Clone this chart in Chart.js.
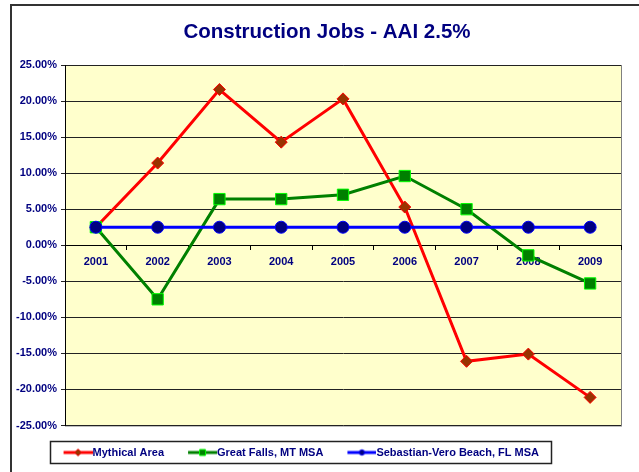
<!DOCTYPE html>
<html>
<head>
<meta charset="utf-8">
<script src="https://cdn.jsdelivr.net/npm/chart.js@4"></script>
<style>
  html, body { margin: 0; padding: 0; background: #fff; overflow: hidden; }
  #wrap { position: relative; width: 639px; height: 472px; }
</style>
</head>
<body>
<div id="wrap"><canvas id="chart"></canvas></div>
<script>
// chart data
const years = ['2001', '2002', '2003', '2004', '2005', '2006', '2007', '2008', '2009'];
const mythicalArea = [2.5, 11.4, 21.6, 14.3, 20.3, 5.3, -16.1, -15.1, -21.1];
const greatFalls = [2.5, -7.5, 6.4, 6.4, 7.0, 9.6, 5.0, -1.4, -5.3];
const sebastianVero = [2.5, 2.5, 2.5, 2.5, 2.5, 2.5, 2.5, 2.5, 2.5];
const seriesNames = ['Mythical Area', 'Great Falls, MT MSA', 'Sebastian-Vero Beach, FL MSA'];

const NAVY = '#000080';
const FONT = 'Liberation Sans, Arial, sans-serif';

// small line+marker picture for legend entries
function legendIcon(lineColor, fill, stroke, shape) {
    const c = document.createElement('canvas');
    c.width = 37;
    c.height = 12;
    const g = c.getContext('2d');
    g.strokeStyle = lineColor;
    g.lineWidth = 3;
    g.beginPath();
    g.moveTo(8, 6);
    g.lineTo(37, 6);
    g.stroke();
    const cx = 22.5, cy = 6;
    g.fillStyle = fill;
    g.strokeStyle = stroke;
    g.lineWidth = 1;
    g.beginPath();
    if (shape === 'diamond') {
        g.moveTo(cx, cy - 3.5); g.lineTo(cx + 3.5, cy); g.lineTo(cx, cy + 3.5); g.lineTo(cx - 3.5, cy); g.closePath();
    } else if (shape === 'square') {
        g.rect(cx - 3, cy - 3, 6, 6);
    } else {
        g.arc(cx, cy, 2.7, 0, Math.PI * 2);
    }
    g.fill();
    g.stroke();
    return c;
}

const icons = [
    legendIcon('#FF0000', '#993300', '#FF0000', 'diamond'),
    legendIcon('#008000', '#008000', '#00FF00', 'square'),
    legendIcon('#0000FF', '#000080', '#0000FF', 'circle')
];

// background, plot fill, outer frame, legend box
const decor = {
    id: 'decor',
    afterLayout(chart) {
        // nudge title and legend to where the original sits
        chart.titleBlock.left += 16.5;
        chart.titleBlock.right += 16.5;
        chart.legend.left -= 10.5;
        chart.legend.right -= 10.5;
    },
    beforeDraw(chart) {
        const ctx = chart.ctx;
        const a = chart.chartArea;
        ctx.save();
        ctx.fillStyle = '#fff';
        ctx.fillRect(0, 0, chart.width, chart.height);
        ctx.fillStyle = '#FFFFCC';
        ctx.fillRect(a.left, a.top, a.right - a.left, a.bottom - a.top);
        ctx.strokeStyle = '#808080';
        ctx.lineWidth = 1;
        ctx.strokeRect(a.left + 0.5, a.top + 0.5, a.right - a.left, a.bottom - a.top);
        // outer frame: only top and left edges are inside the picture
        ctx.strokeStyle = '#333';
        ctx.lineWidth = 2;
        ctx.beginPath();
        ctx.moveTo(11, chart.height + 2);
        ctx.lineTo(11, 5);
        ctx.lineTo(chart.width + 2, 5);
        ctx.stroke();
        ctx.restore();
    },
    afterDraw(chart) {
        const hb = chart.legend.legendHitBoxes;
        if (!hb || !hb.length) return;
        const first = hb[0], last = hb[hb.length - 1];
        const ctx = chart.ctx;
        ctx.save();
        ctx.strokeStyle = '#222';
        ctx.lineWidth = 1.5;
        const l = Math.round(first.left - 11) + 0.5;
        const r = Math.round(last.left + last.width + 12) + 0.5;
        const t = Math.round(first.top - 6.5) + 0.5;
        const b = Math.round(first.top + first.height + 5) + 0.5;
        ctx.strokeRect(l, t, r - l, b - t);
        ctx.restore();
    }
};

new Chart(document.getElementById('chart'), {
    type: 'line',
    data: {
        labels: years,
        datasets: [{
            label: seriesNames[0],
            data: mythicalArea,
            order: 3,
            borderColor: '#FF0000',
            backgroundColor: '#993300',
            borderWidth: 3,
            pointStyle: 'rectRot',
            pointRadius: 6,
            pointBackgroundColor: '#993300',
            pointBorderColor: '#FF0000',
            pointBorderWidth: 1
        }, {
            label: seriesNames[1],
            data: greatFalls,
            order: 2,
            borderColor: '#008000',
            backgroundColor: '#008000',
            borderWidth: 3,
            pointStyle: 'rect',
            pointRadius: 8,
            pointBackgroundColor: '#008000',
            pointBorderColor: '#00FF00',
            pointBorderWidth: 1
        }, {
            label: seriesNames[2],
            data: sebastianVero,
            order: 1,
            borderColor: '#0000FF',
            backgroundColor: '#000080',
            borderWidth: 3,
            pointStyle: 'circle',
            pointRadius: 6,
            pointBackgroundColor: '#000080',
            pointBorderColor: '#0000FF',
            pointBorderWidth: 1
        }]
    },
    options: {
        responsive: true,
        maintainAspectRatio: false,
        animation: false,
        layout: { padding: { left: 0, right: 18, top: 0, bottom: 4 } },
        elements: { line: { tension: 0 } },
        plugins: {
            title: {
                display: true,
                text: 'Construction Jobs - AAI 2.5%',
                color: NAVY,
                font: { family: FONT, size: 20.5, weight: 'bold', lineHeight: 1.2 },
                padding: { top: 20.5, bottom: 19.9 }
            },
            legend: {
                position: 'bottom',
                labels: {
                    color: NAVY,
                    font: { family: FONT, size: 11, weight: 'bold' },
                    usePointStyle: true,
                    pointStyleWidth: 26,
                    padding: 21.5,
                    sort: (a, b) => a.datasetIndex - b.datasetIndex,
                    generateLabels(chart) {
                        const items = Chart.defaults.plugins.legend.labels.generateLabels(chart);
                        items.forEach(it => { it.pointStyle = icons[it.datasetIndex]; });
                        return items;
                    }
                }
            },
            tooltip: { enabled: false }
        },
        scales: {
            x: {
                position: { y: 0 },
                offset: true,
                grid: {
                    offset: true,
                    drawOnChartArea: false,
                    drawTicks: true,
                    tickLength: 4,
                    color: '#000'
                },
                border: { display: true, color: '#000', width: 1 },
                ticks: {
                    color: NAVY,
                    padding: 6,
                    maxRotation: 0,
                    font: { family: FONT, size: 11, weight: 'bold' }
                }
            },
            y: {
                min: -25,
                max: 25,
                afterFit(scale) { scale.width = 65; },
                grid: {
                    color: '#222',
                    lineWidth: 1,
                    tickLength: 4
                },
                border: { display: true, color: '#000', width: 1 },
                ticks: {
                    stepSize: 5,
                    color: NAVY,
                    padding: 4,
                    font: { family: FONT, size: 11, weight: 'bold' },
                    callback: function(value) {
                        return value.toFixed(2) + '%';
                    }
                }
            }
        }
    },
    plugins: [decor]
});
</script>
</body>
</html>
